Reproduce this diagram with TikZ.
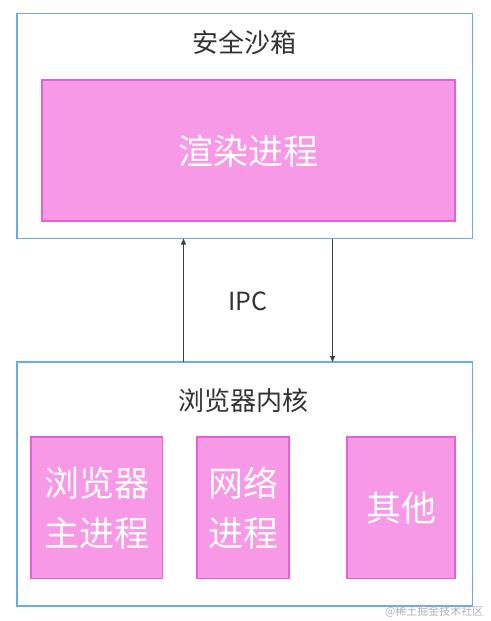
\documentclass[tikz,border=0pt]{standalone}
\usepackage{fontspec}
\setmainfont{Noto Sans CJK SC}
\usetikzlibrary{arrows.meta}
\definecolor{bluebd}{HTML}{6AAAF0}
\definecolor{pinkfill}{HTML}{F799E6}
\definecolor{pinkbd}{HTML}{E65FD6}
\definecolor{titlegray}{HTML}{333333}
\tikzset{
  outerbox/.style={draw=bluebd, line width=1.4pt, fill=white},
  pinkbox/.style={draw=pinkbd, line width=1.2pt, fill=pinkfill},
  titletext/.style={text=titlegray, font=\fontsize{26}{30}\selectfont},
  bigtext/.style={text=white, font=\fontsize{35}{50}\selectfont, align=center},
  conn/.style={draw=black!75, line width=1.1pt, -{Triangle[length=6pt,width=5pt]}},
}
\begin{document}
\begin{tikzpicture}[x=1pt,y=-1pt]
\useasboundingbox[fill=white] (0,0) rectangle (490,621);
% top box
\draw[outerbox] (17,13.5) rectangle (472.5,238.5);
\node[titletext] (t1) at (244.5,43) {安全沙箱};
\draw[pinkbox] (42,80) rectangle (455,221);
\node[bigtext] (render) at (248,151) {渲染进程};
% bottom box
\draw[outerbox] (17,362) rectangle (472.5,606);
\node[titletext] (t2) at (243,401) {浏览器内核};
\draw[pinkbox] (31,437) rectangle (162.5,578.5);
\node[bigtext] (bmain) at (97,508) {浏览器\\主进程};
\draw[pinkbox] (197,437) rectangle (289,578.5);
\node[bigtext] (net) at (243,508) {网络\\进程};
\draw[pinkbox] (347,437) rectangle (455,578.5);
\node[bigtext] (other) at (401,508) {其他};
% connectors
\coordinate (a1s) at (183.5,362);
\coordinate (a1e) at (183.5,238.5);
\coordinate (a2s) at (332.5,238.5);
\coordinate (a2e) at (332.5,362);
\draw[conn] (a1s) -- (a1e);
\draw[conn] (a2s) -- (a2e);
\node[text=titlegray, font=\fontsize{25}{30}\selectfont] (ipc) at (248,301) {IPC};
\node[text=black!30, font=\fontsize{11}{13}\selectfont, anchor=east] (wm) at (487,612) {@稀土掘金技术社区};
\end{tikzpicture}
\end{document}
